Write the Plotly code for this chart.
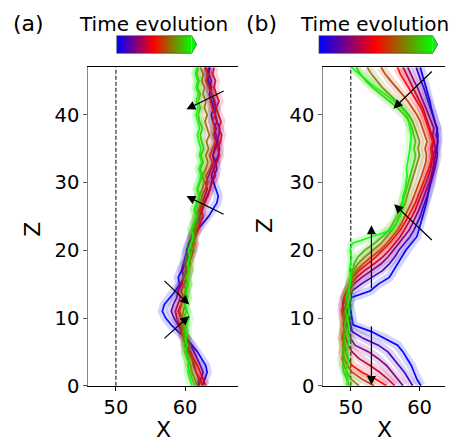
import numpy as np
import plotly.graph_objects as go
from plotly.colors import sample_colorscale

W, H = 453, 443
FONT = "DejaVu Sans"

# Height levels shared by every profile
z_levels = list(range(48))

# ---- panel (a): interface profiles X(Z) at successive times ----
a_times = [0.0, 0.14, 0.28, 0.42, 0.57, 0.71, 0.85, 1.0]
a_x = [
    [62.5, 62.8, 63.2, 63.0, 62.4, 61.8, 61.0, 60.2, 59.0, 58.0, 57.2, 56.7, 57.0, 57.8, 58.6, 59.2,
     59.0, 59.5, 59.8, 60.0, 60.3, 60.5, 61.0, 61.8, 62.6, 63.4, 64.0, 64.6, 64.8, 64.5, 64.2, 63.8,
     64.2, 64.5, 64.0, 64.3, 64.6, 64.2, 64.5, 64.0, 63.8, 64.2, 63.9, 63.5, 63.8, 63.4, 63.2, 63.5],
    [62.0, 62.3, 62.6, 62.2, 61.8, 61.3, 60.8, 60.2, 59.6, 59.0, 58.4, 58.0, 58.3, 58.8, 59.0, 59.4,
     59.8, 59.6, 60.0, 60.4, 60.2, 60.6, 61.0, 61.4, 61.8, 62.2, 62.5, 62.8, 63.2, 63.6, 63.8, 64.2,
     64.6, 64.4, 64.8, 65.0, 64.6, 64.9, 65.0, 64.6, 64.3, 64.5, 64.2, 64.0, 63.6, 63.8, 63.4, 63.6],
    [61.8, 62.0, 61.6, 61.2, 61.0, 60.6, 60.2, 59.8, 59.4, 59.2, 58.8, 58.6, 58.9, 59.3, 59.0, 59.5,
     59.8, 60.2, 60.0, 60.4, 60.8, 61.2, 61.0, 61.5, 61.9, 62.2, 62.0, 62.5, 62.9, 63.2, 63.0, 63.4,
     63.8, 64.2, 64.0, 64.4, 64.8, 64.5, 64.2, 64.6, 64.4, 64.0, 64.3, 63.8, 63.5, 63.2, 63.4, 63.0],
    [63.0, 62.6, 62.2, 61.8, 61.2, 60.8, 60.4, 60.0, 59.6, 59.8, 59.4, 59.0, 59.4, 59.8, 59.4, 59.9,
     60.3, 60.0, 60.5, 60.9, 61.2, 61.0, 61.5, 61.8, 62.2, 62.6, 62.3, 62.8, 63.3, 63.6, 63.9, 64.4,
     64.1, 64.6, 65.0, 64.7, 65.1, 65.3, 64.9, 65.2, 64.8, 64.5, 64.9, 64.6, 64.2, 64.4, 64.0, 64.2],
    [62.6, 62.2, 61.6, 61.4, 61.0, 60.4, 60.0, 60.3, 59.8, 59.4, 59.6, 59.2, 59.5, 59.9, 60.2, 59.8,
     60.2, 60.6, 60.4, 60.8, 61.0, 61.4, 61.2, 61.7, 61.4, 61.9, 62.3, 62.6, 62.4, 62.9, 63.3, 63.0,
     63.6, 63.9, 63.6, 64.0, 64.4, 64.1, 64.3, 64.0, 64.3, 63.9, 63.6, 63.9, 63.4, 63.0, 63.3, 62.8],
    [61.8, 61.4, 61.0, 60.8, 60.4, 60.0, 60.3, 59.8, 59.6, 59.9, 59.5, 59.7, 60.0, 59.7, 60.1, 60.4,
     60.1, 60.5, 60.8, 60.6, 61.0, 61.3, 61.0, 61.4, 61.8, 61.6, 62.0, 62.3, 62.0, 62.5, 62.8, 62.5,
     63.0, 63.3, 63.0, 63.4, 63.1, 63.5, 63.2, 62.9, 63.2, 62.8, 63.0, 62.6, 62.8, 62.4, 62.6, 62.2],
    [61.4, 61.0, 60.7, 60.4, 60.6, 60.2, 59.9, 60.2, 59.8, 60.1, 59.8, 60.2, 60.0, 60.3, 60.0, 60.4,
     60.2, 60.6, 60.3, 60.7, 61.0, 60.8, 61.2, 61.0, 61.4, 61.7, 61.4, 61.8, 62.1, 61.8, 62.2, 62.5,
     62.2, 62.6, 62.3, 62.7, 62.4, 62.2, 62.5, 62.1, 61.9, 62.2, 61.9, 62.2, 61.8, 62.0, 61.7, 61.9],
    [61.0, 60.7, 60.4, 60.6, 60.3, 60.0, 60.3, 60.0, 60.4, 60.2, 60.6, 60.3, 60.0, 60.4, 60.2, 60.5,
     60.3, 60.6, 60.4, 60.7, 60.5, 60.9, 61.2, 60.9, 61.3, 61.6, 61.3, 61.7, 62.0, 61.7, 62.0, 62.3,
     62.0, 62.4, 62.1, 62.3, 62.0, 61.8, 62.1, 61.8, 61.6, 61.9, 61.6, 61.9, 61.6, 61.8, 61.5, 61.7],
]

# ---- panel (b) ----
b_times = [0.0, 0.125, 0.25, 0.375, 0.5, 0.625, 0.75, 0.875, 1.0]
b_x = [
    [60.2, 59.6, 59.2, 58.8, 58.2, 57.6, 56.8, 55.0, 53.0, 50.3, 50.2, 50.0, 49.8, 50.0, 52.8, 54.0,
     55.6, 56.2, 56.8, 57.4, 58.0, 58.8, 59.6, 59.9, 60.2, 60.5, 60.7, 61.0, 61.2, 61.4, 61.6, 61.8,
     62.0, 62.1, 62.3, 62.5, 62.6, 62.7, 62.5, 62.2, 62.0, 61.7, 61.5, 61.2, 61.0, 60.7, 60.4, 60.1],
    [59.0, 58.4, 57.8, 57.0, 56.2, 55.4, 54.0, 51.8, 50.2, 50.0, 49.7, 49.5, 49.8, 50.0, 50.2, 51.5,
     53.0, 54.6, 55.6, 56.4, 57.0, 57.8, 58.6, 59.2, 59.7, 60.1, 60.4, 60.8, 61.1, 61.4, 61.7, 61.9,
     62.2, 62.4, 62.6, 62.5, 62.7, 62.4, 62.6, 62.2, 61.9, 61.6, 61.3, 61.0, 60.6, 60.2, 59.8, 59.5],
    [57.6, 56.8, 56.0, 55.2, 54.0, 52.6, 50.6, 50.0, 49.6, 49.4, 49.2, 49.0, 48.8, 49.0, 49.4, 50.4,
     51.6, 53.0, 54.4, 55.4, 56.2, 57.0, 57.8, 58.5, 59.0, 59.5, 59.9, 60.3, 60.7, 61.0, 61.4, 61.7,
     62.0, 62.2, 62.0, 62.3, 62.1, 61.9, 62.1, 61.7, 61.4, 61.0, 60.6, 60.2, 59.7, 59.2, 58.8, 58.3],
    [56.4, 55.4, 54.2, 52.8, 51.2, 50.2, 49.6, 49.3, 49.0, 49.2, 49.0, 48.7, 48.9, 49.2, 49.5, 50.0,
     50.8, 52.0, 53.4, 54.6, 55.6, 56.4, 57.2, 57.8, 58.4, 58.9, 59.4, 59.8, 60.2, 60.6, 61.0, 61.3,
     61.6, 61.8, 62.0, 61.8, 62.1, 61.8, 61.5, 61.2, 60.9, 60.5, 60.0, 59.5, 59.0, 58.5, 58.0, 57.6],
    [55.2, 53.6, 51.6, 50.2, 49.6, 49.3, 49.0, 48.8, 49.1, 48.9, 49.2, 49.0, 49.3, 49.1, 49.5, 49.8,
     50.3, 51.2, 52.4, 53.6, 54.6, 55.6, 56.4, 57.2, 57.8, 58.4, 58.9, 59.4, 59.8, 60.2, 60.6, 61.0,
     61.3, 61.6, 61.8, 61.6, 61.9, 61.6, 61.3, 61.0, 60.6, 60.2, 59.6, 59.0, 58.4, 57.8, 57.2, 56.8],
    [53.4, 51.6, 50.2, 49.5, 49.0, 48.8, 49.1, 48.7, 48.9, 49.2, 48.9, 49.1, 49.4, 49.2, 49.6, 49.9,
     50.2, 50.8, 51.8, 53.0, 54.2, 55.2, 56.0, 56.8, 57.4, 57.9, 58.4, 58.8, 59.2, 59.6, 60.0, 60.3,
     60.6, 60.9, 61.0, 60.8, 61.1, 60.8, 60.5, 60.1, 59.6, 59.0, 58.3, 57.5, 56.6, 55.8, 55.0, 54.4],
    [51.2, 50.0, 49.4, 49.0, 48.7, 49.0, 48.8, 49.1, 48.9, 49.2, 49.4, 49.2, 49.5, 49.3, 49.6, 49.9,
     50.0, 50.4, 51.0, 52.0, 53.2, 54.4, 55.2, 56.0, 56.6, 57.1, 57.5, 57.9, 58.2, 58.6, 58.9, 59.2,
     59.5, 59.8, 60.0, 59.8, 60.0, 59.7, 59.4, 59.0, 58.4, 57.6, 56.6, 55.6, 54.6, 53.8, 53.0, 52.4],
    [49.8, 49.4, 49.0, 48.8, 49.1, 48.9, 49.2, 49.0, 49.3, 49.1, 49.4, 49.2, 49.6, 49.4, 49.7, 49.9,
     50.0, 50.2, 50.5, 51.0, 52.0, 53.4, 54.6, 55.6, 56.2, 56.7, 57.1, 57.5, 57.8, 58.1, 58.4, 58.6,
     58.9, 59.2, 59.4, 59.2, 59.4, 59.2, 58.9, 58.5, 57.8, 56.8, 55.6, 54.4, 53.2, 52.2, 51.4, 50.8],
    [49.4, 49.6, 49.3, 49.5, 49.7, 49.4, 49.6, 49.8, 49.5, 49.7, 49.5, 49.8, 49.6, 49.9, 49.7, 49.8,
     50.0, 49.8, 50.0, 50.1, 49.9, 50.2, 53.0, 56.0, 56.6, 57.2, 57.5, 57.6, 57.6, 57.9, 58.0, 58.2,
     58.1, 58.3, 58.5, 58.6, 58.7, 58.8, 58.6, 58.4, 58.2, 57.4, 56.2, 55.0, 53.6, 52.4, 51.2, 50.1],
]

# Arrows: (tail X, tail Z, head X, head Z)
a_arrows = [(65.8, 43.6, 60.2, 40.8), (65.8, 25.2, 60.2, 28.0),
            (56.8, 15.7, 60.6, 12.0), (56.8, 6.8, 60.6, 10.3)]
b_arrows = [(62.0, 46.6, 56.2, 40.9), (62.0, 21.3, 56.3, 26.8),
            (53.0, 14.2, 53.0, 23.7), (53.0, 9.0, 53.0, 0.1)]

wall_x = 50
x_ticks = [50, 60]
z_ticks = [0, 10, 20, 30, 40]
a_xrange = [46, 67.7]
b_xrange = [46, 63.7]
z_range = [0, 47]

time_scale = [[0.0, "rgb(0,0,255)"], [0.5, "rgb(255,0,0)"], [1.0, "rgb(0,255,0)"]]


def px(x):
    return x / W


def py(y):
    return 1 - y / H


fig = go.Figure()


def add_profiles(times, profiles, xa, ya):
    colors = sample_colorscale(time_scale, times)
    for c, xs in zip(colors, profiles):
        fig.add_trace(go.Scatter(x=xs, y=z_levels, mode="lines", xaxis=xa, yaxis=ya,
                                 line=dict(color=c, width=9), opacity=0.17,
                                 hoverinfo="skip", showlegend=False))
        fig.add_trace(go.Scatter(x=xs, y=z_levels, mode="lines", xaxis=xa, yaxis=ya,
                                 line=dict(color=c, width=1.7), opacity=0.9,
                                 showlegend=False))


add_profiles(a_times, a_x, "x", "y")
add_profiles(b_times, b_x, "x2", "y2")

# Colour bars drawn as one-row heatmaps
gradient = [list(np.linspace(0, 1, 256))]
fig.add_trace(go.Heatmap(z=gradient, colorscale=time_scale, showscale=False,
                         xaxis="x3", yaxis="y3", hoverinfo="skip"))
fig.add_trace(go.Heatmap(z=gradient, colorscale=time_scale, showscale=False,
                         xaxis="x4", yaxis="y4", hoverinfo="skip"))

tick_font = dict(family=FONT, size=19.5, color="black")
common_x = dict(tickvals=x_ticks, ticks="outside", ticklen=4, tickwidth=1.2, tickcolor="black",
                showline=True, linecolor="black", linewidth=1.2, mirror=True, automargin=False,
                showgrid=False, zeroline=False, tickfont=tick_font)
common_y = dict(tickvals=z_ticks, range=z_range, ticks="outside", ticklen=4, tickwidth=1.2,
                tickcolor="#555", showline=True, linecolor="#888", linewidth=1.2, automargin=False,
                showgrid=False, zeroline=False, tickfont=tick_font, domain=[py(385.8), py(67.3)])

cb_y = [py(53.3), py(35.7)]
hidden = dict(visible=False, fixedrange=True, automargin=False)

fig.update_layout(
    width=W, height=H, autosize=False, margin=dict(l=0, r=0, t=0, b=0, pad=0),
    paper_bgcolor="white", plot_bgcolor="white",
    xaxis=dict(common_x, range=a_xrange, domain=[px(88.3), px(238.3)], anchor="y"),
    yaxis=dict(common_y, anchor="x"),
    xaxis2=dict(common_x, range=b_xrange, domain=[px(323.3), px(445)], anchor="y2"),
    yaxis2=dict(common_y, anchor="x2"),
    xaxis3=dict(hidden, domain=[px(116.7), px(191.7)], range=[-0.5, 255.5], anchor="y3"),
    yaxis3=dict(hidden, domain=cb_y, range=[-0.5, 0.5], anchor="x3"),
    xaxis4=dict(hidden, domain=[px(319), px(432.7)], range=[-0.5, 255.5], anchor="y4"),
    yaxis4=dict(hidden, domain=cb_y, range=[-0.5, 0.5], anchor="x4"),
)

shapes = []
# dashed reference line at the wall position
for xr, yr in (("x", "y domain"), ("x2", "y2 domain")):
    shapes.append(dict(type="line", xref=xr, yref=yr, x0=wall_x, x1=wall_x, y0=0, y1=1,
                       line=dict(color="black", width=1, dash="4px,2px"), layer="below"))

# extension triangles and outlines of the colour bars
for x0, x1 in ((116.7, 191.7), (319, 432.7)):
    tip = x1 + 5
    tri = f"M{px(x1)},{py(35.7)} L{px(tip)},{py(44.5)} L{px(x1)},{py(53.3)} Z"
    shapes.append(dict(type="path", xref="paper", yref="paper", path=tri,
                       fillcolor="rgb(0,255,0)", line=dict(width=0)))
    outline = (f"M{px(x0)},{py(35.7)} L{px(x1)},{py(35.7)} L{px(tip)},{py(44.5)} "
               f"L{px(x1)},{py(53.3)} L{px(x0)},{py(53.3)} Z")
    shapes.append(dict(type="path", xref="paper", yref="paper", path=outline,
                       line=dict(color="#444", width=0.7)))
fig.update_layout(shapes=shapes)

annotations = []
for arrows, xr, yr in ((a_arrows, "x", "y"), (b_arrows, "x2", "y2")):
    for tx, tz, hx, hz in arrows:
        annotations.append(dict(x=hx, y=hz, ax=tx, ay=tz, xref=xr, yref=yr, axref=xr, ayref=yr,
                                text="", showarrow=True, arrowhead=2, arrowsize=1.5,
                                arrowwidth=1.2, arrowcolor="black", standoff=0, startstandoff=0))

label_font = dict(family=FONT, size=22, color="black")
title_font = dict(family=FONT, size=20, color="black")
for text, x, y, font, angle, yanchor in (
    ("(a)", 28, 24, label_font, 0, "middle"), ("(b)", 261.7, 24, label_font, 0, "middle"),
    ("Time evolution", 153.5, 24, title_font, 0, "middle"),
    ("Time evolution", 374, 24, title_font, 0, "middle"),
    ("Z", 31.7, 229, label_font, -90, "middle"), ("Z", 265, 226, label_font, -90, "middle"),
    ("X", 163.3, 443, label_font, 0, "bottom"), ("X", 384, 443, label_font, 0, "bottom"),
):
    annotations.append(dict(text=text, x=px(x), y=py(y), xref="paper", yref="paper",
                            xanchor="center", yanchor=yanchor, showarrow=False,
                            font=font, textangle=angle, borderpad=0))
fig.update_layout(annotations=annotations)

fig.write_html("out.html")
